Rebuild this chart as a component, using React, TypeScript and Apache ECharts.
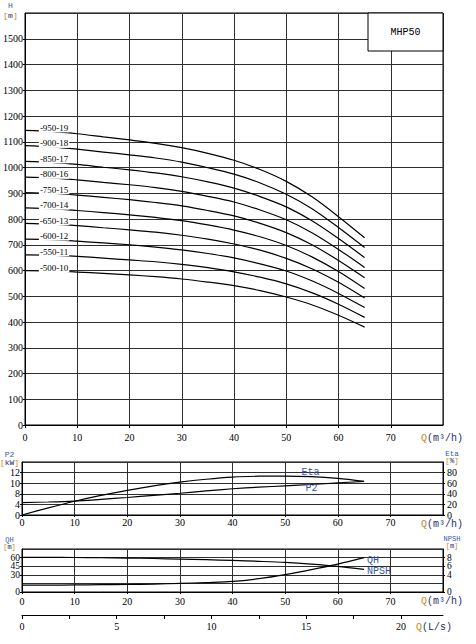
import React, { useEffect, useRef } from 'react';
import * as echarts from 'echarts';

// Flow rate Q (m³/h)
const Q = [0, 5, 10, 15, 20, 25, 30, 35, 40, 45, 50, 55, 60, 65];

// Head curves H (m), one per model
const H_950_19 = [1144, 1140, 1131, 1119, 1107, 1094, 1077, 1055, 1028, 992, 946, 885, 809, 727];
const H_900_18 = [1085, 1080, 1071, 1060, 1049, 1037, 1021, 999, 974, 940, 896, 839, 767, 689];
const H_850_17 = [1024, 1020, 1012, 1001, 991, 979, 964, 944, 920, 887, 847, 792, 724, 650];
const H_800_16 = [963, 960, 952, 942, 933, 922, 907, 888, 866, 835, 797, 746, 682, 612];
const H_750_15 = [903, 900, 893, 884, 875, 864, 851, 833, 812, 783, 747, 699, 639, 572];
const H_700_14 = [843, 840, 833, 825, 816, 806, 794, 777, 757, 731, 697, 652, 596, 530];
const H_650_13 = [783, 780, 774, 766, 758, 749, 737, 722, 703, 679, 647, 606, 554, 493];
const H_600_12 = [722, 720, 714, 707, 700, 691, 680, 666, 649, 626, 598, 559, 511, 456];
const H_550_11 = [661, 660, 655, 648, 641, 634, 624, 611, 595, 574, 548, 513, 469, 418];
const H_500_10 = [599, 598, 594, 589, 583, 576, 567, 555, 541, 522, 497, 466, 426, 380];

const HEAD_CURVES = [H_950_19, H_900_18, H_850_17, H_800_16, H_750_15, H_700_14, H_650_13, H_600_12, H_550_11, H_500_10];
const CURVE_NAMES = ['-950-19', '-900-18', '-850-17', '-800-16', '-750-15', '-700-14', '-650-13', '-600-12', '-550-11', '-500-10'];

// Efficiency (%) and shaft power P2 (axis units, 4 per grid step)
const ETA = [0, 13.5, 26, 37, 46.5, 55, 62, 67.5, 71.5, 73.2, 73.5, 72.3, 69, 63.5];
const P2 = [4.7, 4.9, 5.25, 5.9, 6.6, 7.4, 8.2, 9.1, 9.9, 10.5, 11.0, 11.5, 12.1, 12.7];

// Per-stage head QH (m) and NPSH (m)
const QH = [60.4, 60.3, 60.2, 59.7, 59.2, 58.4, 57.4, 56.3, 55.1, 53.5, 51.6, 48.6, 44.7, 39.4];
const NPSH = [1.6, 1.6, 1.65, 1.7, 1.75, 1.85, 2.0, 2.2, 2.45, 3.1, 4.05, 5.2, 6.5, 8.0];

// Tick labels
const P2_TICK_LABELS = ['0', '4', '8', '10', '12', ''];
const LS_MAX = 80 / 3.6;

const SERIF = '"Liberation Serif", "DejaVu Serif", serif';
const MONO = '"Liberation Mono", "DejaVu Sans Mono", monospace';
const GRID_C = '#2e2e2e';
const BLUE = '#3458b0';
const ORANGE = '#c8861e';
const NAVY = '#1f2d6b';

function qAxis(gridIndex: number, margin: number, tickLen: number) {
  return {
    type: 'value',
    gridIndex,
    min: 0,
    max: 80,
    interval: 10,
    axisLine: { show: true, onZero: false, lineStyle: { color: '#000', width: 1 } },
    axisTick: { show: true, length: tickLen, lineStyle: { color: '#000' } },
    axisLabel: {
      color: '#000',
      fontFamily: SERIF,
      fontSize: 10,
      margin,
      showMinLabel: true,
      showMaxLabel: false,
      hideOverlap: false,
      formatter: (v: number) => (v >= 80 ? '' : String(v)),
    },
    splitLine: { show: true, lineStyle: { color: GRID_C, width: 1 } },
  };
}

function yAxis(
  gridIndex: number,
  max: number,
  interval: number,
  position: string,
  split: boolean,
  margin: number,
  formatter?: any,
  fontSize = 10,
  lineHeight = 10
) {
  return {
    type: 'value',
    gridIndex,
    position,
    min: 0,
    max,
    interval,
    axisLine: { show: true, onZero: false, lineStyle: { color: '#000', width: 1 } },
    axisTick: { show: true, length: 2, lineStyle: { color: '#000' } },
    axisLabel: {
      color: '#000',
      fontFamily: SERIF,
      fontSize,
      lineHeight,
      margin,
      showMinLabel: true,
      showMaxLabel: false,
      hideOverlap: false,
      formatter: formatter || ((v: number) => (v >= max ? '' : String(v))),
    },
    splitLine: { show: split, lineStyle: { color: GRID_C, width: 1 } },
  };
}

function pairs(ys: number[]) {
  return Q.map((q, i) => [q, ys[i]]);
}

// axis name + unit as one two-line rich text
function axisName(x: number, y: number, name: string, unit: string, lh: number, fs = 8) {
  return {
    type: 'text',
    x,
    y,
    z: 100,
    style: {
      text: `{n|${name}}\n{o|[}{u|${unit}}{o|]}`,
      rich: {
        n: { fill: BLUE, fontSize: fs, fontFamily: MONO, lineHeight: lh },
        o: { fill: ORANGE, fontSize: fs, fontFamily: MONO, lineHeight: lh },
        u: { fill: NAVY, fontSize: fs, fontFamily: MONO, lineHeight: lh },
      },
      fontSize: fs,
      fontFamily: MONO,
      lineHeight: lh,
      textAlign: 'center',
      textVerticalAlign: 'middle',
    },
  };
}

function qName(x: number, y: number, unit: string) {
  return {
    type: 'text',
    x,
    y,
    z: 100,
    style: {
      text: `{a|Q}{b|${unit}}`,
      rich: {
        a: { fill: ORANGE, fontSize: 10, fontFamily: MONO },
        b: { fill: NAVY, fontSize: 10, fontFamily: MONO },
      },
      fontSize: 10,
      fontFamily: MONO,
      textAlign: 'left',
      textVerticalAlign: 'middle',
    },
  };
}

export default function App() {
  const ref = useRef<HTMLDivElement>(null);

  useEffect(() => {
    if (!ref.current) return;
    const chart = echarts.init(ref.current, null, { renderer: 'svg' });

    const headSeries = HEAD_CURVES.map((h, k) => ({
      type: 'line',
      name: CURVE_NAMES[k],
      xAxisIndex: 0,
      yAxisIndex: 0,
      smooth: 0.3,
      symbol: 'circle',
      symbolSize: 0,
      showSymbol: true,
      silent: true,
      lineStyle: { color: '#000', width: 1.2 },
      itemStyle: { color: '#000' },
      label: { show: false },
      data: Q.map((q, i) =>
        i === 1
          ? {
              value: [q, h[i]],
              label: {
                show: true,
                position: 'top',
                distance: 0,
                offset: [3, 1],
                formatter: CURVE_NAMES[k],
                color: '#000',
                fontFamily: SERIF,
                fontSize: 9,
                backgroundColor: '#fff',
                padding: [0, 1],
              },
            }
          : [q, h[i]]
      ),
    }));

    const pointLabel = (text: string, position: string, offset: number[]) => ({
      show: true,
      position,
      distance: 0,
      offset,
      formatter: text,
      color: BLUE,
      fontFamily: MONO,
      fontSize: 10,
    });

    const option: any = {
      animation: false,
      backgroundColor: '#fff',
      grid: [
        { left: 22, top: 13, width: 421, height: 412, show: true, borderColor: '#000', borderWidth: 1 },
        { left: 22, top: 462, width: 421, height: 53, show: true, borderColor: '#000', borderWidth: 1 },
        { left: 22, top: 549, width: 421, height: 43, show: true, borderColor: '#000', borderWidth: 1 },
        { left: 22, top: 614, width: 421, height: 1, show: false },
      ],
      xAxis: [
        qAxis(0, 7, 3),
        qAxis(1, 2, 2),
        qAxis(2, 4, 2),
        {
          type: 'value',
          gridIndex: 3,
          min: 0,
          max: LS_MAX,
          interval: 2.5,
          axisLine: { show: true, onZero: false, lineStyle: { color: '#000', width: 1 } },
          axisTick: { show: true, length: 4, lineStyle: { color: '#000' } },
          axisLabel: {
            color: '#000',
            fontFamily: SERIF,
            fontSize: 10,
            margin: 6,
            showMinLabel: true,
            showMaxLabel: false,
            formatter: (v: number) => (Math.abs(v % 5) < 1e-6 ? String(v) : ''),
          },
          splitLine: { show: false },
        },
      ],
      yAxis: [
        yAxis(0, 1600, 100, 'left', true, 2),
        yAxis(1, 20, 4, 'left', true, 2, (v: number) => P2_TICK_LABELS[Math.round(v / 4)] ?? ''),
        yAxis(1, 100, 20, 'right', false, 4),
        yAxis(2, 75, 15, 'left', true, 2, undefined, 9.5, 8),
        yAxis(2, 10, 2, 'right', false, 4, undefined, 9.5, 8),
        { type: 'value', gridIndex: 3, show: false, min: 0, max: 1 },
      ],
      series: [
        ...headSeries,
        {
          type: 'line',
          name: 'Eta',
          xAxisIndex: 1,
          yAxisIndex: 2,
          smooth: 0.3,
          symbol: 'circle',
          symbolSize: 0,
          showSymbol: true,
          silent: true,
          lineStyle: { color: '#000', width: 1.2 },
          itemStyle: { color: '#000' },
          data: pairs(ETA).map((p, i) => (i === 11 ? { value: p, label: pointLabel('Eta', 'top', [-1, 1]) } : p)),
        },
        {
          type: 'line',
          name: 'P2',
          xAxisIndex: 1,
          yAxisIndex: 1,
          smooth: 0.3,
          symbol: 'circle',
          symbolSize: 0,
          showSymbol: true,
          silent: true,
          lineStyle: { color: '#000', width: 1.2 },
          itemStyle: { color: '#000' },
          data: pairs(P2).map((p, i) => (i === 11 ? { value: p, label: pointLabel('P2', 'bottom', [0, -1]) } : p)),
        },
        {
          type: 'line',
          name: 'QH',
          xAxisIndex: 2,
          yAxisIndex: 3,
          smooth: 0.3,
          symbol: 'none',
          silent: true,
          lineStyle: { color: '#000', width: 1.2 },
          endLabel: { show: true, formatter: 'QH', distance: 3, offset: [0, -9], color: BLUE, fontFamily: MONO, fontSize: 10, lineHeight: 9 },
          data: pairs(QH),
        },
        {
          type: 'line',
          name: 'NPSH',
          xAxisIndex: 2,
          yAxisIndex: 4,
          smooth: 0.3,
          symbol: 'none',
          silent: true,
          lineStyle: { color: '#000', width: 1.2 },
          endLabel: { show: true, formatter: 'NPSH', distance: 3, offset: [0, 13.5], color: BLUE, fontFamily: MONO, fontSize: 10, lineHeight: 9 },
          data: pairs(NPSH),
        },
      ],
      graphic: [
        {
          type: 'rect',
          z: 100,
          shape: { x: 368, y: 13, width: 75, height: 38 },
          style: { fill: '#fff', stroke: '#000', lineWidth: 1 },
        },
        {
          type: 'text',
          z: 101,
          x: 405.5,
          y: 32,
          style: { text: 'MHP50', fill: '#000', fontSize: 10, fontFamily: MONO, textAlign: 'center', textVerticalAlign: 'middle' },
        },
        axisName(10.5, 10, 'H', 'm', 10),
        axisName(9.5, 458, 'P2', 'kW', 8),
        axisName(452, 457.5, 'Eta', '%', 7.5, 7.5),
        axisName(9.5, 543.5, 'QH', 'm', 7, 7),
        axisName(452, 542.5, 'NPSH', 'm', 7, 7),
        qName(421, 438, '(m³/h)'),
        qName(421, 524.5, '(m³/h)'),
        qName(421, 601.5, '(m³/h)'),
        qName(416, 627, '(L/s)'),
      ],
    };

    chart.setOption(option);
    return () => chart.dispose();
  }, []);

  return (
    <div
      ref={ref}
      style={{ position: 'absolute', left: 0, top: 0, width: 476, height: 644, background: '#fff' }}
    />
  );
}
